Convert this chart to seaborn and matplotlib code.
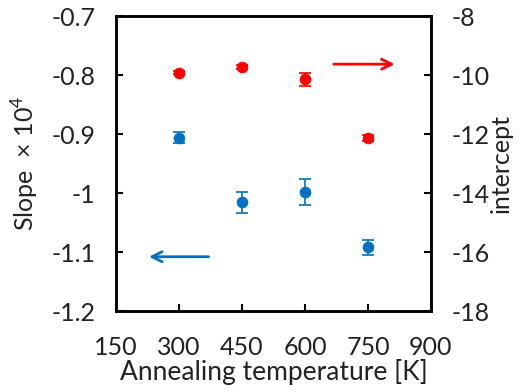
import matplotlib
matplotlib.use('Agg')
import matplotlib.pyplot as plt
import seaborn as sns
import pandas as pd

temps = [300, 450, 600, 750]
slope = [-0.906, -1.016, -0.998, -1.092]
slope_err = [0.010, 0.017, 0.022, 0.013]
intercept = [-9.92, -9.72, -10.15, -12.12]
intercept_err = [0.06, 0.07, 0.21, 0.10]

blue = '#0070C0'
red = '#FF0000'
txt = '#222222'

sns.set_style('ticks')
plt.rcParams['font.family'] = ['Lato', 'DejaVu Sans']
plt.rcParams['mathtext.fontset'] = 'custom'
plt.rcParams['mathtext.rm'] = 'Lato'
plt.rcParams['axes.unicode_minus'] = False

df = pd.DataFrame({'temp': temps, 'slope': slope, 'intercept': intercept})

fig, ax = plt.subplots(figsize=(5.24, 3.92), dpi=100)
fig.subplots_adjust(left=0.2214, right=0.8225, top=0.959, bottom=0.2066)
ax2 = ax.twinx()

ax.errorbar(temps, slope, yerr=slope_err, fmt='none', ecolor=blue, elinewidth=1.2, capsize=4, capthick=1.2)
sns.scatterplot(data=df, x='temp', y='slope', ax=ax, color=blue, s=60, edgecolor=blue, zorder=3)
ax2.errorbar(temps, intercept, yerr=intercept_err, fmt='none', ecolor=red, elinewidth=1.2, capsize=4, capthick=1.2)
sns.scatterplot(data=df, x='temp', y='intercept', ax=ax2, color=red, s=60, edgecolor=red, zorder=3)

ax.set_xlim(150, 900)
ax.set_ylim(-1.2, -0.7)
ax2.set_ylim(-18, -8)
ax.set_xticks([150, 300, 450, 600, 750, 900])
ax.set_yticks([-1.2, -1.1, -1.0, -0.9, -0.8, -0.7])
ax.set_yticklabels(['-1.2', '-1.1', '-1', '-0.9', '-0.8', '-0.7'])
ax2.set_yticks([-18, -16, -14, -12, -10, -8])

ax.set_xlabel('Annealing temperature [K]', fontsize=19, labelpad=0, color=txt)
ax.set_ylabel('Slope  $\\times$ 10$^4$', fontsize=18, labelpad=7, color=txt)
ax2.set_ylabel('intercept', fontsize=18, labelpad=0, color=txt)

for a in (ax, ax2):
    a.tick_params(direction='in', length=5, width=1.5, labelsize=18, colors='black',
                  labelcolor=txt, pad=15)
    for sp in a.spines.values():
        sp.set_visible(True)
        sp.set_linewidth(1.8)
        sp.set_color('black')
ax.tick_params(axis='x', pad=18)

ax.annotate('', xy=(222, -1.108), xytext=(377, -1.108),
            arrowprops=dict(arrowstyle='->', color=blue, lw=2, mutation_scale=18))
ax2.annotate('', xy=(820, -9.63), xytext=(662, -9.63),
             arrowprops=dict(arrowstyle='->', color=red, lw=2, mutation_scale=18))

fig.savefig('out.png', dpi=100)
